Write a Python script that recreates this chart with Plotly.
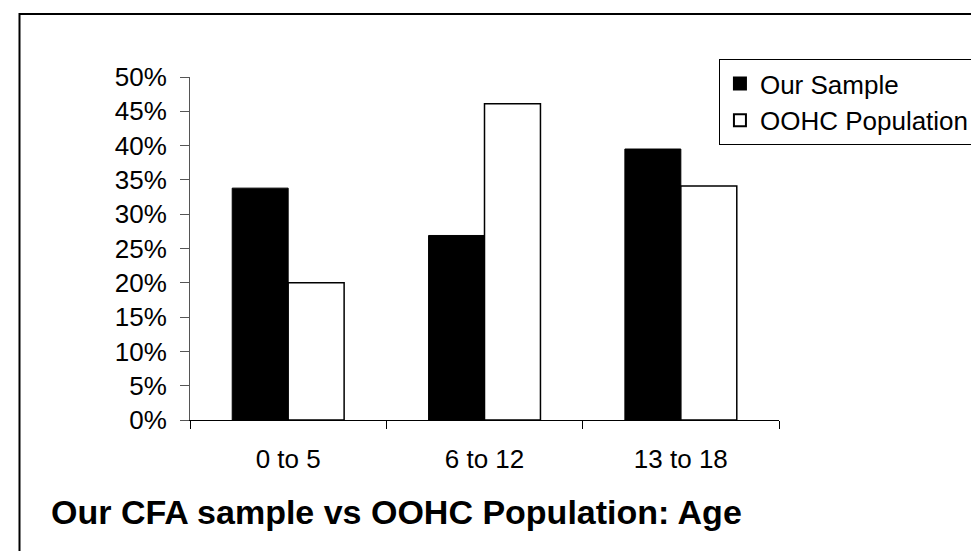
import plotly.graph_objects as go

categories = ["0 to 5", "6 to 12", "13 to 18"]
our_sample = [33.8, 26.9, 39.5]
oohc_population = [20.0, 46.1, 34.1]
y_ticks = [0, 5, 10, 15, 20, 25, 30, 35, 40, 45, 50]
y_tick_labels = [f"{v}%" for v in y_ticks]
title_text = "Our CFA sample vs OOHC Population: Age"

W, H = 979, 551
L, R, T, B = 182, 189, 69, 139
PW, PH = W - L - R, H - T - B

fig = go.Figure()
fig.add_trace(go.Bar(
    x=categories, y=our_sample, name="Our Sample",
    marker=dict(color="black", line=dict(color="black", width=1)),
))
fig.add_trace(go.Bar(
    x=categories, y=oohc_population, name="OOHC Population",
    marker=dict(color="white", line=dict(color="black", width=1.5)),
))

font = "Arial, Liberation Sans, sans-serif"
fig.update_layout(
    width=W, height=H,
    margin=dict(l=L, r=R, t=T, b=B, pad=0),
    paper_bgcolor="white", plot_bgcolor="white",
    barmode="group", bargap=0.43, bargroupgap=0,
    font=dict(family=font, size=26, color="black"),
    showlegend=True,
    legend=dict(
        x=(728 - L) / PW, xanchor="left",
        y=1.0 + (T - 51) / PH, yanchor="top",
        bordercolor="black", borderwidth=1, bgcolor="white",
        font=dict(family=font, size=26, color="black"),
        itemsizing="constant", tracegroupgap=0,
    ),
    xaxis=dict(
        type="category", range=[-0.5, 2.5],
        showline=True, linecolor="black", linewidth=1,
        ticks="outside", tickson="boundaries", ticklen=8, tickcolor="black",
        ticklabelstandoff=16,
        showgrid=False, zeroline=False,
        tickfont=dict(family=font, size=26, color="black"),
        fixedrange=True,
    ),
    yaxis=dict(
        range=[0, 50], tickvals=y_ticks, ticktext=y_tick_labels,
        showline=True, linecolor="#555555", linewidth=1,
        ticks="outside", ticklen=9, tickcolor="#555555",
        ticklabelstandoff=8,
        showgrid=False, zeroline=False,
        tickfont=dict(family=font, size=26, color="black"),
        fixedrange=True,
    ),
    annotations=[dict(
        text=f"<b>{title_text}</b>",
        xref="paper", yref="paper",
        x=(36 - L) / PW, xanchor="left",
        y=-(504 - (H - B)) / PH, yanchor="middle",
        showarrow=False,
        font=dict(family=font, size=34, color="black"),
    )],
    shapes=[dict(
        type="rect", xref="paper", yref="paper",
        x0=(6 - L) / PW, x1=(990 - L) / PW,
        y0=-(600 - (H - B)) / PH, y1=1 + (T - 6) / PH,
        line=dict(color="black", width=2), layer="below",
    )],
)

fig.write_html("out.html")
